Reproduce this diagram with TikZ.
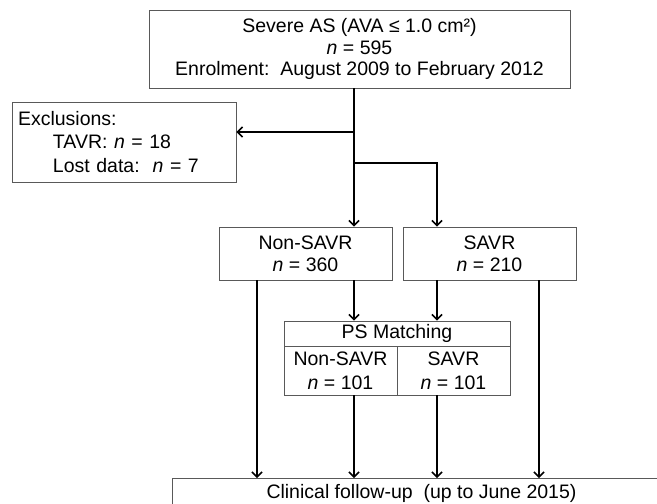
\documentclass[tikz,border=0pt]{standalone}
\usepackage{fontspec}
\setmainfont{Liberation Sans}
\usetikzlibrary{arrows.meta}
\begin{document}
\begin{tikzpicture}[x=1pt,y=-1pt,
  box/.style={draw=black!65, line width=0.9pt, inner sep=0pt, align=center,
    font=\fontsize{19.5}{22}\selectfont},
  arr/.style={draw=black, line width=1.6pt, -{Straight Barb[length=5pt,width=10pt,line width=1.5pt]}},
  ln/.style={draw=black, line width=1.6pt}]
\useasboundingbox (0,0) rectangle (657,504);
\clip (0,0) rectangle (657,504);
\node[box, minimum width=421pt, minimum height=78pt, font=\fontsize{19.5}{21.5}\selectfont] (top) at (359.5,49)
  {Severe AS (AVA ≤ 1.0 cm²)\\ \textit{n} = 595\\ Enrolment:\ \ August 2009 to February 2012};
\node[box, minimum width=224pt, minimum height=80pt, align=left, inner xsep=6pt, text width=212pt, font=\fontsize{19.5}{23.5}\selectfont] (excl) at (124,142)
  {Exclusions:\\ \hspace*{35pt}TAVR: \textit{n} = 18\\ \hspace*{35pt}Lost data:\ \ \textit{n} = 7};
\node[box, minimum width=173pt, minimum height=53pt] (nons) at (305.5,253.5)
  {Non-SAVR\\ \textit{n} = 360};
\node[box, minimum width=173pt, minimum height=53pt] (savr) at (489.5,253.5)
  {SAVR\\ \textit{n} = 210};
\node[box, minimum width=226pt, minimum height=25pt] (ps) at (397,333.5) {PS Matching};
\node[box, minimum width=113pt, minimum height=49pt, font=\fontsize{19.5}{24}\selectfont] (psn) at (340.5,370.5)
  {Non-SAVR\\ \textit{n} = 101};
\node[box, minimum width=113pt, minimum height=49pt, font=\fontsize{19.5}{24}\selectfont] (pss) at (453.5,370.5)
  {SAVR\\ \textit{n} = 101};
\node[box, minimum width=498pt, minimum height=40pt, anchor=north west] (fu) at (172,478) {};
\node[font=\fontsize{19.5}{22}\selectfont, inner sep=0pt] (fut) at (421.5,493)
  {Clinical follow-up\ \ (up to June 2015)};
% columns
\coordinate (c1) at (257,0);
\coordinate (c2) at (354,0);
\coordinate (c3) at (437,0);
\coordinate (c4) at (539,0);
\coordinate (j1) at (354,132);
\coordinate (j2) at (354,163);
\draw[ln] (top.south -| c2) -- (j1);
\draw[arr] (j1) -- (excl.east |- j1);
\draw[arr] (j1) -- (nons.north -| c2);
\draw[arr] (j2) -| (savr.north -| c3);
\draw[arr] (nons.south -| c2) -- (ps.north -| c2);
\draw[arr] (savr.south -| c3) -- (ps.north -| c3);
\draw[arr] (nons.south -| c1) -- (fu.north -| c1);
\draw[arr] (savr.south -| c4) -- (fu.north -| c4);
\draw[arr] (psn.south -| c2) -- (fu.north -| c2);
\draw[arr] (pss.south -| c3) -- (fu.north -| c3);
\end{tikzpicture}
\end{document}
